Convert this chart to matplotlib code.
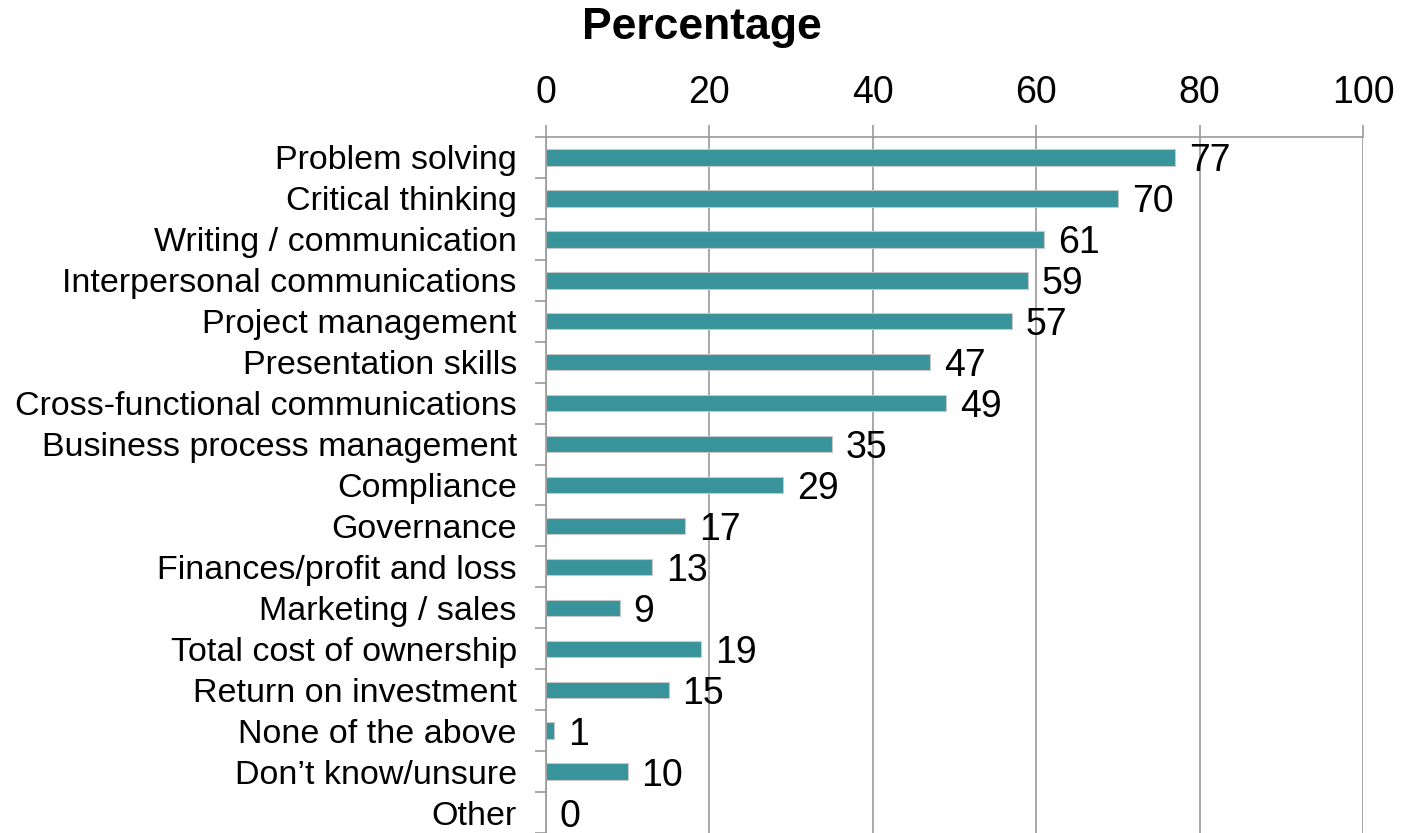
import matplotlib.pyplot as plt
import numpy as np

plt.rcParams['font.family'] = ['Liberation Sans', 'DejaVu Sans']

skills = ['Problem solving', 'Critical thinking', 'Writing / communication',
          'Interpersonal communications', 'Project management', 'Presentation skills',
          'Cross-functional communications', 'Business process management', 'Compliance',
          'Governance', 'Finances/profit and loss', 'Marketing / sales',
          'Total cost of ownership', 'Return on investment', 'None of the above',
          'Don\u2019t know/unsure', 'Other']
percent = [77, 70, 61, 59, 57, 47, 49, 35, 29, 17, 13, 9, 19, 15, 1, 10, 0]
x_ticks = [0, 20, 40, 60, 80, 100]

bar_color = '#38939A'
line_color = '#999999'

fig = plt.figure(figsize=(14.04, 8.33), dpi=100)
ax = fig.add_axes([0.3889, 0.0, 0.5819, 0.8355])

pos = np.arange(len(skills))
ax.barh(pos, percent, height=0.4, color=bar_color, edgecolor='#c8c8c8', linewidth=0.8, zorder=3)
for y, v in zip(pos, percent):
    ax.text(v + 1.7, y, str(v), va='center_baseline', ha='left', fontsize=27, zorder=4)

ax.set_xlim(0, 100)
ax.set_ylim(len(skills) - 0.5, -0.5)

# x axis on top
ax.xaxis.tick_top()
ax.set_xticks(x_ticks)
ax.tick_params(axis='x', which='major', length=9, width=1.2, color=line_color,
               pad=10, labelsize=27)
ax.grid(axis='x', color=line_color, linewidth=1.2, zorder=0)

# category ticks sit between bars, labels centred on bars
ax.set_yticks(np.arange(len(skills) + 1) - 0.5)
ax.set_yticklabels([])
ax.set_yticks(pos, minor=True)
ax.set_yticklabels(skills, minor=True)
ax.tick_params(axis='y', which='major', length=8, width=1.2, color=line_color)
ax.tick_params(axis='y', which='minor', length=0, pad=21, labelsize=24.5)

for s in ['right', 'bottom']:
    ax.spines[s].set_visible(False)
for s in ['top', 'left']:
    ax.spines[s].set_color(line_color)
    ax.spines[s].set_linewidth(1.2)
    ax.spines[s].set_zorder(5)

fig.text(0.5, 0.953, 'Percentage', ha='center', va='baseline', fontsize=32, fontweight='bold')

plt.savefig('out.png', dpi=100)
plt.close()
